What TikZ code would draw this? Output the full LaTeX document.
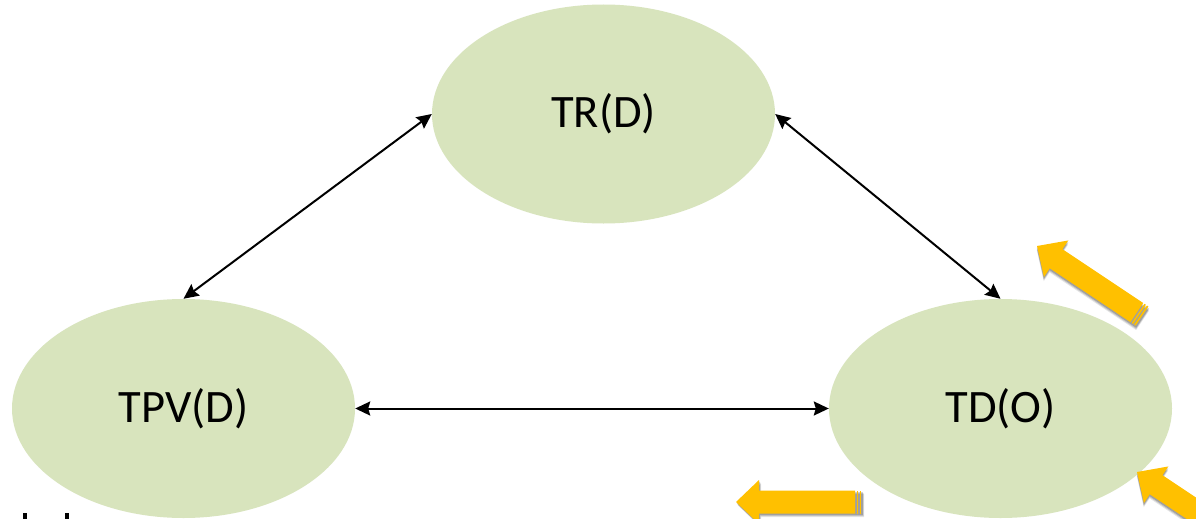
\documentclass[tikz,border=0pt]{standalone}
\usepackage{fontspec}
\setmainfont{Carlito}
\usetikzlibrary{shapes.geometric,arrows.meta}
\definecolor{ellgreen}{RGB}{216,228,189}
\definecolor{gold}{RGB}{255,192,0}
\tikzset{
  state/.style={ellipse, fill=ellgreen, draw=none, minimum width=343pt,
    minimum height=219pt, inner sep=0pt, font=\fontsize{46.5}{50}\selectfont},
  link/.style={line width=2pt,
    {Stealth[length=15pt,width=14pt,inset=2pt]}-{Stealth[length=15pt,width=14pt,inset=2pt]}},
  yarr/.pic={
    \foreach \s/\o in {3.5/0.10,2.5/0.14,1.5/0.18}{
      \fill[black,opacity=\o,shift={(\s*0.6,\s)}]
        (0,0) -- (23,-22) -- (23,-11.5) -- (#1,-11.5) -- (#1,11.5)
        -- (23,11.5) -- (23,22) -- cycle;
    }
    \fill[gold] (0,0) -- (23,-22) -- (23,-11.5) -- (#1-7,-11.5)
      -- (#1-7,11.5) -- (23,11.5) -- (23,22) -- cycle;
    \fill[gold] (#1-5.5,-11.5) rectangle (#1-3.8,11.5);
    \fill[gold] (#1-2.5,-11.5) rectangle (#1-0.8,11.5);
  }
}
\begin{document}
\begin{tikzpicture}[x=1pt,y=-1pt]
  \useasboundingbox (0,0) rectangle (1196,519);
  \clip (0,0) rectangle (1196,519);
  \fill[white] (0,0) rectangle (1196,519);

  \node[state] (trd) at (603.5,114) {TR(D)};
  \node[state] (tpv) at (183.5,408.5) {TPV(D)};
  \node[state] (tdo) at (1000.5,408.5) {TD(O)};

  \draw[link] (trd.west) -- (tpv.north);
  \draw[link] (trd.east) -- (tdo.north);
  \draw[link] (tpv.east) -- (tdo.west);

  \pic[rotate=-33.7] at (1037,246) {yarr=127};
  \pic[rotate=-33.7] at (1137,472) {yarr=127};
  \pic at (736,502) {yarr=126};

  \fill[black] (22.5,513) rectangle (26.5,519);
  \fill[black] (64.5,513) rectangle (68.5,519);
\end{tikzpicture}
\end{document}
